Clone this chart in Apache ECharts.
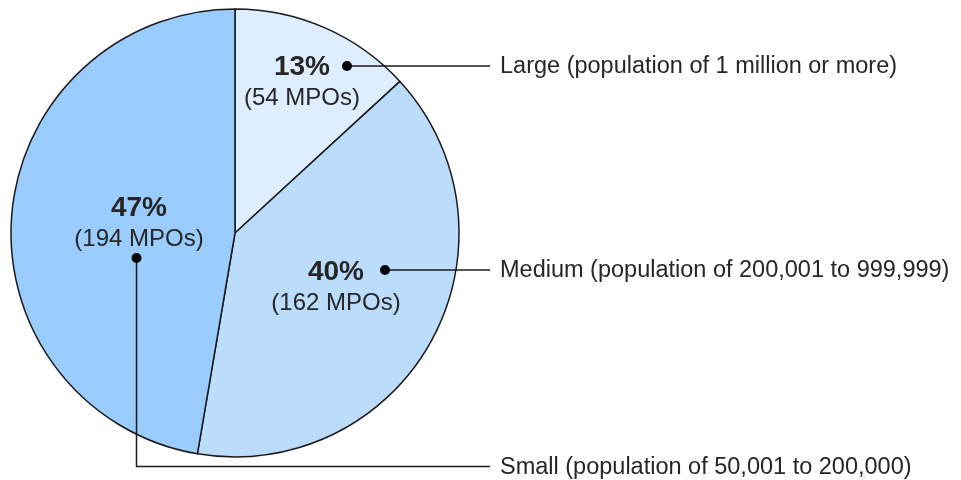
<!DOCTYPE html>
<html>
<head>
<meta charset="utf-8">
<script src="https://cdn.jsdelivr.net/npm/echarts@6/dist/echarts.min.js"></script>
<style>
html,body{margin:0;padding:0;background:#fff;}
#chart{width:961px;height:480px;}
</style>
</head>
<body>
<div id="chart"></div>
<script>
// ---- data ----
var categories = ['Large', 'Medium', 'Small'];
var mpoCounts = [54, 162, 194];
var percentLabels = ['13%', '40%', '47%'];
var descriptions = [
  'Large (population of 1 million or more)',
  'Medium (population of 200,001 to 999,999)',
  'Small (population of 50,001 to 200,000)'
];

// ---- style / layout ----
var colors = ['#deeefe', '#bcdcfc', '#9accfd'];
var inLabelPos = [[302, 83], [336, 288], [139, 224]];
var dotPos = [[347, 66], [385, 270], [136.5, 258]];
var calloutY = [66, 270, 466.5];
var lineEndX = 490;
var textX = 500;
var font = '"Liberation Sans", Arial, sans-serif';
var txt = '#262626';

var pieData = categories.map(function (c, i) {
  return { name: c, value: mpoCounts[i], itemStyle: { color: colors[i] } };
});
var ghostData = categories.map(function (c, i) {
  return { name: c, value: mpoCounts[i] };
});

var chart = echarts.init(document.getElementById('chart'), null, { renderer: 'canvas' });

var option = {
  animation: false,
  backgroundColor: '#ffffff',
  series: [
    {
      type: 'pie',
      z: 2,
      center: [235, 233],
      radius: [0, 224],
      startAngle: 90,
      clockwise: true,
      silent: true,
      avoidLabelOverlap: false,
      data: pieData,
      itemStyle: { borderColor: '#1a1a1a', borderWidth: 1.5 },
      labelLine: { show: false },
      label: {
        show: true,
        position: 'inside',
        fontFamily: font,
        color: txt,
        formatter: function (p) {
          return '{p|' + percentLabels[p.dataIndex] + '}\n{n|(' + mpoCounts[p.dataIndex] + ' MPOs)}';
        },
        rich: {
          p: { fontFamily: font, fontWeight: 'bold', fontSize: 28, lineHeight: 31, color: txt, align: 'center' },
          n: { fontFamily: font, fontSize: 24, lineHeight: 31, color: txt, align: 'center' }
        }
      },
      labelLayout: function (params) {
        var pos = inLabelPos[params.dataIndex];
        return { x: pos[0], y: pos[1], align: 'center', verticalAlign: 'middle' };
      },
      emphasis: { disabled: true }
    },
    {
      type: 'pie',
      z: 5,
      center: [235, 233],
      radius: [0, 224],
      startAngle: 90,
      clockwise: true,
      silent: true,
      avoidLabelOverlap: false,
      data: ghostData,
      itemStyle: { color: 'rgba(0,0,0,0)', borderWidth: 0 },
      label: {
        show: true,
        position: 'outside',
        fontFamily: font,
        fontSize: 23.5,
        color: txt,
        formatter: function (p) { return descriptions[p.dataIndex]; }
      },
      labelLine: {
        show: true,
        smooth: false,
        length: 10,
        length2: 10,
        lineStyle: { color: '#1a1a1a', width: 1.5 }
      },
      labelLayout: function (params) {
        var i = params.dataIndex;
        var d = dotPos[i];
        var y = calloutY[i];
        return {
          x: textX,
          y: y + 1,
          align: 'left',
          verticalAlign: 'middle',
          hideOverlap: false,
          labelLinePoints: [[d[0], d[1]], [d[0], y], [lineEndX, y]]
        };
      },
      emphasis: { disabled: true }
    }
  ],
  graphic: dotPos.map(function (d) {
    return {
      type: 'circle',
      shape: { cx: d[0], cy: d[1], r: 5 },
      style: { fill: '#000' },
      z: 100
    };
  })
};
chart.setOption(option);
</script>
</body>
</html>
